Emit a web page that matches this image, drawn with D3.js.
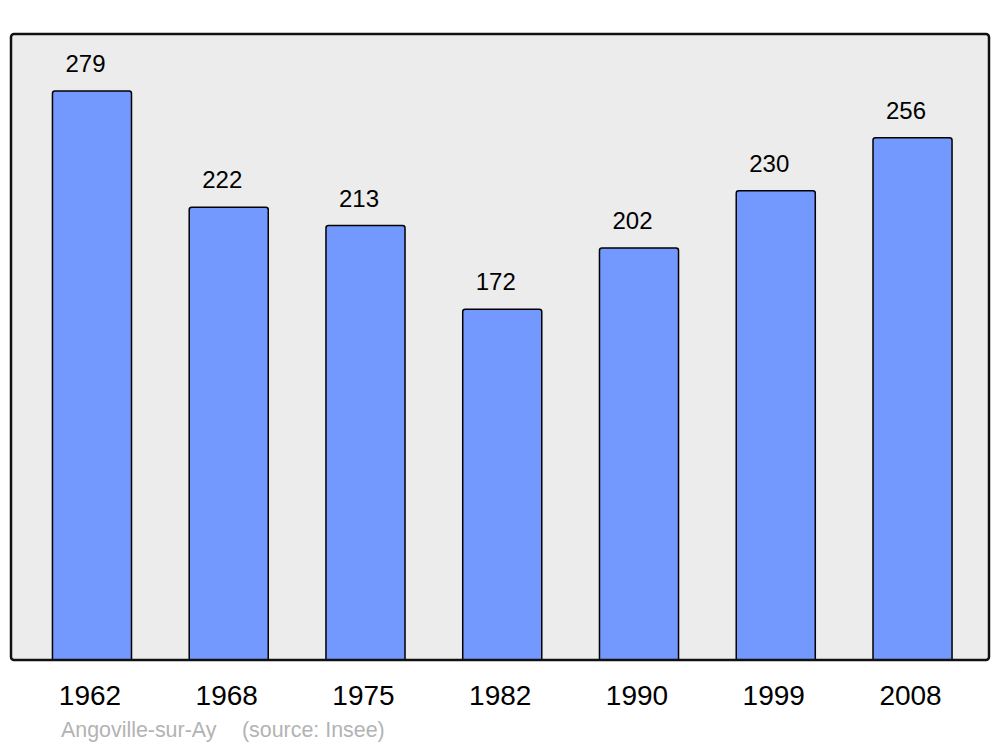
<!DOCTYPE html>
<html><head><meta charset="utf-8">
<script src="https://cdn.jsdelivr.net/npm/d3@7"></script>
<style>body{margin:0;background:#fff}svg{display:block}text{font-family:"Liberation Sans",Arial,sans-serif}</style>
</head><body>
<svg id="c" width="1000" height="747"></svg>
<script>
const years = ["1962","1968","1975","1982","1990","1999","2008"];
const population = [279,222,213,172,202,230,256];
const placeName = "Angoville-sur-Ay";
const sourceText = "(source: Insee)";

const svg = d3.select("#c");
const frame = {x0:11, x1:989, y0:34, y1:660};
svg.append("rect").attr("x",frame.x0).attr("y",frame.y0)
  .attr("width",frame.x1-frame.x0).attr("height",frame.y1-frame.y0)
  .attr("rx",3).attr("fill","#ececec");

const x = d3.scaleBand().domain(years).range([23.6,980.9]).paddingInner(0.422).paddingOuter(0.211);
const y = d3.scaleLinear().domain([0, d3.max(population)*1.1]).range([frame.y1, frame.y0]);

const g = svg.append("g");
years.forEach((yr,i)=>{
  const v = population[i];
  const x0 = x(yr), w = x.bandwidth(), top = y(v), base = y(0), r = 2.5;
  const p = `M${x0},${base} L${x0},${top+r} Q${x0},${top} ${x0+r},${top} L${x0+w-r},${top} Q${x0+w},${top} ${x0+w},${top+r} L${x0+w},${base} Z`;
  g.append("path").attr("d",p).attr("fill","#7399ff").attr("stroke","#000").attr("stroke-width",1.5);
  g.append("text").attr("x",x0+w/2-6.5).attr("y",top-19).attr("text-anchor","middle")
    .attr("font-size",24).attr("fill","#000").text(v);
});

svg.append("rect").attr("x",frame.x0).attr("y",frame.y0)
  .attr("width",frame.x1-frame.x0).attr("height",frame.y1-frame.y0)
  .attr("rx",3).attr("fill","none").attr("stroke","#111").attr("stroke-width",2.5);

const ax = svg.append("g").attr("transform",`translate(-2,${frame.y1})`)
  .call(d3.axisBottom(x).tickSize(0).tickPadding(0));
ax.select(".domain").remove();
ax.selectAll("text").attr("font-size",28).attr("fill","#000").attr("dy",0).attr("y",44.5)
  .style("font-family",'"Liberation Sans",Arial,sans-serif');

svg.append("text").attr("x",61).attr("y",737).attr("font-size",21.4).attr("fill","#b3b3b3").text(placeName);
svg.append("text").attr("x",242).attr("y",737).attr("font-size",21.4).attr("fill","#b3b3b3").text(sourceText);
</script>
</body></html>
